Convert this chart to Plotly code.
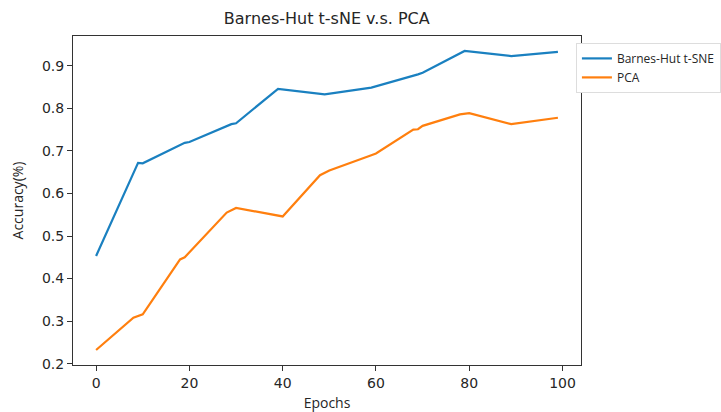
import plotly.graph_objects as go

# Barnes-Hut t-SNE series
tsne_epochs = [0, 9, 10, 19, 20, 29, 30, 39, 49, 59, 69, 70, 79, 89, 99]
tsne_acc = [0.453, 0.672, 0.671, 0.719, 0.721, 0.763, 0.765, 0.846, 0.833,
            0.849, 0.880, 0.884, 0.935, 0.923, 0.933]

# PCA series
pca_epochs = [0, 8, 10, 18, 19, 28, 30, 40, 48, 50, 59, 60, 68, 69, 70, 78, 80, 89, 99]
pca_acc = [0.232, 0.308, 0.316, 0.445, 0.450, 0.555, 0.566, 0.546, 0.643, 0.654,
           0.690, 0.694, 0.750, 0.751, 0.759, 0.786, 0.789, 0.763, 0.778]

x_ticks = [0, 20, 40, 60, 80, 100]
y_ticks = [0.2, 0.3, 0.4, 0.5, 0.6, 0.7, 0.8, 0.9]

FONT = "DejaVu Sans"
TXT = "#262626"

fig = go.Figure()
fig.add_trace(go.Scatter(x=tsne_epochs, y=tsne_acc, mode="lines",
                         name="Barnes-Hut t-SNE",
                         line=dict(color="#1a80c0", width=2.2)))
fig.add_trace(go.Scatter(x=pca_epochs, y=pca_acc, mode="lines",
                         name="PCA",
                         line=dict(color="#ff7f0e", width=2.2)))

axis_common = dict(showgrid=False, zeroline=False, showline=True, mirror=True,
                   linecolor="#333333", linewidth=1, ticks="outside",
                   ticklen=5, tickcolor="#333333", automargin=False,
                   tickfont=dict(family=FONT, size=14, color=TXT))

fig.update_layout(
    width=721, height=412,
    margin=dict(l=73, r=140, t=36, b=47, autoexpand=False),
    paper_bgcolor="white", plot_bgcolor="white",
    title=dict(text="Barnes-Hut t-sNE v.s. PCA", x=(73 + 580.5) / 2 / 721,
               xanchor="center", y=1 - 18 / 412, yanchor="middle",
               font=dict(family=FONT, size=16, color=TXT)),
    xaxis=dict(range=[-4.95, 103.95], tickvals=x_ticks,
               title=dict(text="Epochs",
                          font=dict(family="Open Sans", size=14, color=TXT)),
               **axis_common),
    yaxis=dict(range=[0.1968, 0.9702], tickvals=y_ticks, tickformat=".1f",
               title=dict(text="Accuracy(%)",
                          font=dict(family="Open Sans", size=14, color=TXT)),
               **axis_common),
    legend=dict(x=0.99, y=0.979, xanchor="left", yanchor="top",
                bgcolor="white", bordercolor="#dddddd", borderwidth=1,
                font=dict(family="Open Sans", size=12, color=TXT),
                tracegroupgap=0, itemwidth=30),
    showlegend=True,
)

fig.write_html("out.html",
               config={"displayModeBar": False},
               post_script="document.body.style.margin='0';"
                           "document.body.style.overflow='hidden';")
